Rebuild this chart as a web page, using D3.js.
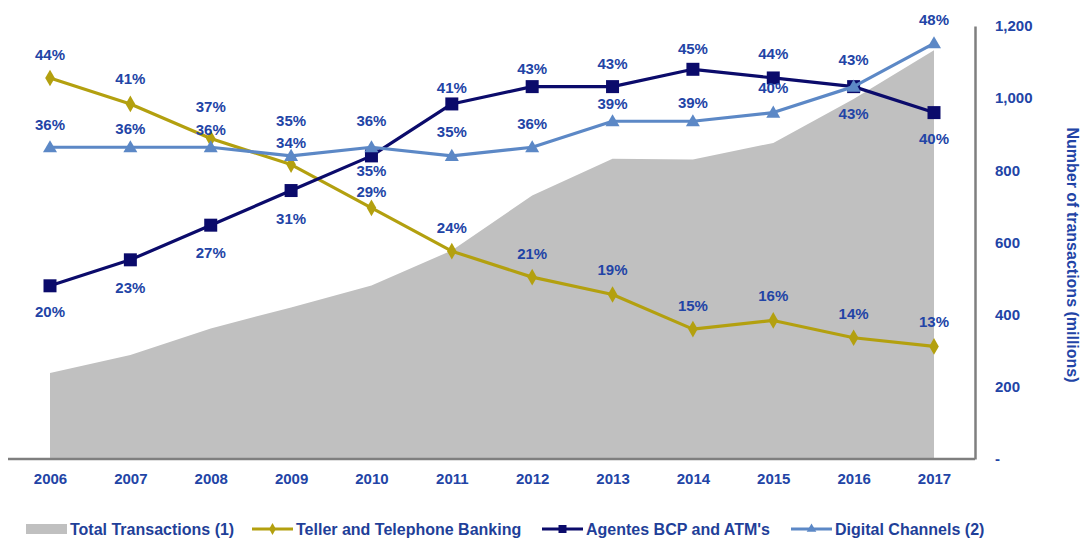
<!DOCTYPE html>
<html>
<head>
<meta charset="utf-8">
<script src="https://cdn.jsdelivr.net/npm/d3@7"></script>
<style>
  html, body { margin: 0; padding: 0; background: #ffffff; }
  svg { display: block; }
  text { font-family: "Liberation Sans", Arial, Helvetica, sans-serif; font-weight: bold; }
</style>
</head>
<body>
<svg id="chart" width="1083" height="538"></svg>
<script>
// ---- data ----
const years = [2006, 2007, 2008, 2009, 2010, 2011, 2012, 2013, 2014, 2015, 2016, 2017];
// total transactions, millions (right axis)
const totalTransactions = [238, 288, 362, 420, 481, 578, 730, 832, 830, 876, 998, 1133];
// share of transactions by channel, %
const tellerPhone = [44, 41, 37, 34, 29, 24, 21, 19, 15, 16, 14, 13];
const agentesAtm  = [20, 23, 27, 31, 35, 41, 43, 43, 45, 44, 43, 40];
const digital     = [36, 36, 36, 35, 36, 35, 36, 39, 39, 40, 43, 48];
const rightTicks = [0, 200, 400, 600, 800, 1000, 1200];
const legendLabels = ["Total Transactions (1)", "Teller and Telephone Banking", "Agentes BCP and ATM's", "Digital Channels (2)"];

// ---- layout ----
const plotLeft = 8, plotRight = 975, plotTop = 26, plotBottom = 459;
const textBlue = "#2244a6";
const colTeller = "#b3a00f", colAgentes = "#0b0b6b", colDigital = "#5c88c6", colArea = "#c0c0c0", colAxis = "#7f7f7f";

// vertical offsets of the value labels from their markers
const tellerDy  = [-23, -25, -32, -22, -16, -24, -24, -25, -24, -25, -24, -25];
const agentesDy = [26, 28, 27, 28, 15, -16, -18, -23, -21, -24, -27, 26];
const digitalDy = [-23, -19, -18, -35, -27, -24, -24, -18, -19, -25, 27, -24];

const svg = d3.select("#chart");

const x = d3.scalePoint().domain(years).range([50, 934]);
const yRight = d3.scaleLinear().domain([0, 1200]).range([plotBottom, plotTop]);
const yPct = d3.scaleLinear().domain([0, 50]).range([plotBottom, plotTop]);

// total transactions area
const area = d3.area()
  .x((d, i) => x(years[i]))
  .y0(plotBottom)
  .y1(d => yRight(d));
svg.append("path")
  .datum(totalTransactions)
  .attr("d", area)
  .attr("fill", colArea);

// baseline and right axis
svg.append("line")
  .attr("x1", plotLeft).attr("x2", plotRight)
  .attr("y1", plotBottom).attr("y2", plotBottom)
  .attr("stroke", colAxis).attr("stroke-width", 2.5);

const rightAxis = d3.axisRight(yRight)
  .tickValues(rightTicks)
  .tickSize(0)
  .tickSizeOuter(0)
  .tickPadding(20)
  .tickFormat(d => d === 0 ? "-" : d3.format(",")(d));
const gR = svg.append("g").attr("transform", `translate(${plotRight},0)`).call(rightAxis);
gR.select(".domain").attr("stroke", colAxis).attr("stroke-width", 2.5);
gR.selectAll("text")
  .attr("fill", textBlue)
  .style("font-size", "15px")
  .style("font-family", "'Liberation Sans', Arial, sans-serif")
  .style("font-weight", "bold");

svg.append("text")
  .attr("transform", "translate(1072,255) rotate(90)")
  .attr("text-anchor", "middle")
  .attr("dominant-baseline", "central")
  .attr("fill", textBlue)
  .style("font-size", "16px")
  .text("Number of transactions (millions)");

// year labels
const bottomAxis = d3.axisBottom(x).tickSize(0).tickPadding(14);
const gB = svg.append("g").attr("transform", `translate(0,${plotBottom})`).call(bottomAxis);
gB.select(".domain").remove();
gB.selectAll("text")
  .attr("fill", textBlue)
  .style("font-size", "15px")
  .style("font-family", "'Liberation Sans', Arial, sans-serif")
  .style("font-weight", "bold");

// series
const series = [
  { values: tellerPhone, color: colTeller, shape: "diamond", dy: tellerDy },
  { values: agentesAtm, color: colAgentes, shape: "square", dy: agentesDy },
  { values: digital, color: colDigital, shape: "triangle", dy: digitalDy }
];

const markerPath = {
  diamond: d3.symbol().type(d3.symbolDiamond).size(80)(),
  square: d3.symbol().type(d3.symbolSquare).size(169)(),
  triangle: d3.symbol().type(d3.symbolTriangle).size(85)()
};

const line = d3.line()
  .x((d, i) => x(years[i]))
  .y(d => yPct(d));

series.forEach(s => {
  svg.append("path")
    .datum(s.values)
    .attr("d", line)
    .attr("fill", "none")
    .attr("stroke", s.color)
    .attr("stroke-width", 3.2)
    .attr("stroke-linejoin", "round");
  svg.selectAll(null)
    .data(s.values)
    .join("path")
    .attr("d", markerPath[s.shape])
    .attr("transform", (d, i) => `translate(${x(years[i])},${yPct(d) + (s.shape === "triangle" ? 1 : 0)})`)
    .attr("fill", s.color);
});

series.forEach(s => {
  svg.selectAll(null)
    .data(s.values)
    .join("text")
    .attr("x", (d, i) => x(years[i]))
    .attr("y", (d, i) => yPct(d) + s.dy[i])
    .attr("text-anchor", "middle")
    .attr("dominant-baseline", "central")
    .attr("fill", textBlue)
    .style("font-size", "15px")
    .text(d => d + "%");
});

// legend
const legendY = 529;
const legendItems = [
  { label: legendLabels[0], kind: "area", x0: 26 },
  { label: legendLabels[1], kind: "diamond", color: colTeller, x0: 252 },
  { label: legendLabels[2], kind: "square", color: colAgentes, x0: 542 },
  { label: legendLabels[3], kind: "triangle", color: colDigital, x0: 791 }
];
const sw = 41;
const smallMarker = {
  diamond: d3.symbol().type(d3.symbolDiamond).size(40)(),
  square: d3.symbol().type(d3.symbolSquare).size(64)(),
  triangle: d3.symbol().type(d3.symbolTriangle).size(40)()
};
legendItems.forEach(it => {
  const g = svg.append("g");
  if (it.kind === "area") {
    g.append("rect").attr("x", it.x0).attr("y", legendY - 5).attr("width", sw).attr("height", 10).attr("fill", colArea);
  } else {
    g.append("line")
      .attr("x1", it.x0).attr("x2", it.x0 + sw)
      .attr("y1", legendY).attr("y2", legendY)
      .attr("stroke", it.color).attr("stroke-width", 3.2);
    g.append("path")
      .attr("d", smallMarker[it.kind])
      .attr("transform", `translate(${it.x0 + sw / 2},${legendY})`)
      .attr("fill", it.color);
  }
  g.append("text")
    .attr("x", it.x0 + sw + 3)
    .attr("y", legendY)
    .attr("dominant-baseline", "central")
    .attr("fill", "#1f3f99")
    .style("font-size", "16px")
    .text(it.label);
});
</script>
</body>
</html>
